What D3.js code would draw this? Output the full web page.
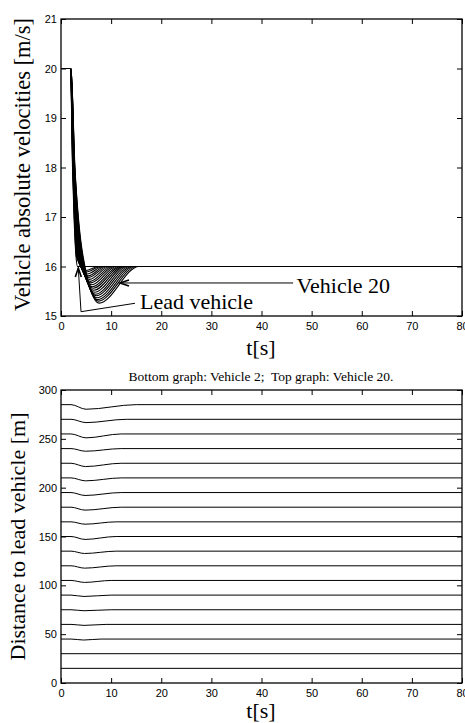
<!DOCTYPE html>
<html>
<head>
<meta charset="utf-8">
<script src="https://cdn.jsdelivr.net/npm/d3@7"></script>
<style>
  body { margin: 0; background: #fff; }
  svg { display: block; }
  .tick text { font-family: "Liberation Sans", Arial, sans-serif; font-size: 11px; fill: #000; }
  .tick line { stroke: #000; stroke-width: 1; }
  .lbl { font-family: "Liberation Serif", "Times New Roman", serif; fill: #000; }
</style>
</head>
<body>
<div id="chart"></div>
<script>
// time axis ticks (both graphs)
var tTicks = [0, 10, 20, 30, 40, 50, 60, 70, 80];
var velTicks = [15, 16, 17, 18, 19, 20, 21];
var distTicks = [0, 50, 100, 150, 200, 250, 300];

// velocity curves, vehicles 1..20 (1 = lead), key points
var velHoldT = [1.9, 1.9, 1.9, 1.9, 1.9, 1.9, 1.9, 1.9, 1.9, 1.9, 1.95, 1.95, 1.95, 1.95, 1.95, 1.95, 2.0, 2.0, 2.0, 2.0];
var velT18 = [2.30, 2.33, 2.35, 2.38, 2.40, 2.43, 2.45, 2.48, 2.50, 2.53, 2.55, 2.58, 2.60, 2.63, 2.65, 2.68, 2.70, 2.73, 2.75, 2.78];
var velT17 = [2.60, 2.65, 2.69, 2.74, 2.78, 2.83, 2.87, 2.92, 2.96, 3.01, 3.05, 3.10, 3.14, 3.19, 3.23, 3.28, 3.32, 3.37, 3.41, 3.46];
var velT162 = [3.00, 3.07, 3.15, 3.22, 3.30, 3.37, 3.44, 3.52, 3.59, 3.67, 3.74, 3.81, 3.89, 3.96, 4.04, 4.11, 4.18, 4.26, 4.33, 4.41];
var velMinT = [3.30, 4.95, 5.09, 5.24, 5.39, 5.54, 5.68, 5.83, 5.98, 6.13, 6.27, 6.42, 6.56, 6.71, 6.86, 7.01, 7.15, 7.30, 7.45, 7.60];
var velMin = [16.0, 15.92, 15.89, 15.85, 15.81, 15.78, 15.74, 15.70, 15.67, 15.63, 15.59, 15.56, 15.52, 15.48, 15.44, 15.41, 15.37, 15.33, 15.30, 15.26];
var velRecT = [3.60, 7.45, 7.90, 8.35, 8.80, 9.25, 9.70, 10.15, 10.60, 11.05, 11.50, 11.95, 12.40, 12.85, 13.30, 13.75, 14.20, 14.65, 15.10, 15.55];

// distance to lead vehicle, vehicles 2..20
var distBase = [15, 30, 45, 60, 75, 90, 105, 120, 135, 150, 165, 180, 195, 210, 225, 240, 255, 270, 285];
var distDip = [0, 0, 1.0, 1.0, 1.0, 1.4, 2.0, 2.4, 2.4, 3.0, 2.4, 3.0, 3.0, 3.0, 3.4, 2.7, 4.0, 3.4, 4.7];
var distMinT = [4.5, 4.5, 4.5, 4.6, 4.6, 4.6, 4.7, 4.7, 4.7, 4.8, 4.8, 4.8, 4.8, 4.9, 4.9, 4.9, 5.0, 5.0, 5.0];
var distRecT = [6, 6, 8, 9, 10, 10, 10, 11, 11, 11, 11, 12, 12, 12, 12, 12, 12, 13, 15];
var distHoldT = 2.0;

var W = 465, H = 723;
var left = 61, right = 462;

var svg = d3.select("#chart").append("svg")
    .attr("width", W)
    .attr("height", H);

function drawFrame(g, x, y, yTicks, top, bottom) {
    g.append("g")
        .attr("transform", "translate(0," + bottom + ")")
        .call(d3.axisBottom(x).tickValues(tTicks).tickFormat(d3.format("d"))
            .tickSizeInner(-5).tickSizeOuter(0).tickPadding(6))
        .select(".domain").remove();
    g.append("g")
        .attr("transform", "translate(0," + top + ")")
        .call(d3.axisTop(x).tickValues(tTicks).tickSizeInner(-5).tickSizeOuter(0).tickFormat(""))
        .select(".domain").remove();
    g.append("g")
        .attr("transform", "translate(" + left + ",0)")
        .call(d3.axisLeft(y).tickValues(yTicks).tickFormat(d3.format("d"))
            .tickSizeInner(-5).tickSizeOuter(0).tickPadding(4))
        .select(".domain").remove();
    g.append("g")
        .attr("transform", "translate(" + right + ",0)")
        .call(d3.axisRight(y).tickValues(yTicks).tickSizeInner(-5).tickSizeOuter(0).tickFormat(""))
        .select(".domain").remove();
    g.append("rect")
        .attr("x", left).attr("y", top)
        .attr("width", right - left).attr("height", bottom - top)
        .style("fill", "none")
        .style("stroke", "#000")
        .style("stroke-width", 1.3);
}

// ---------- top graph: velocities ----------
var vTop = 19, vBottom = 316;
var xV = d3.scaleLinear().domain([0, 80]).range([left, right]);
var yV = d3.scaleLinear().domain([15, 21]).range([vBottom, vTop]);

var gV = svg.append("g");

var velCurves = velMin.map(function(m, i) {
    return [[0, 20], [velHoldT[i], 20], [velT18[i], 18], [velT17[i], 17], [velT162[i], 16.2],
            [velMinT[i], m], [velRecT[i], 16], [80, 16]];
});

var velLine = d3.line()
    .x(function(d) { return xV(d[0]); })
    .y(function(d) { return yV(d[1]); })
    .curve(d3.curveMonotoneX);

gV.selectAll(".vel")
    .data(velCurves)
    .enter().append("path")
    .attr("class", "vel")
    .attr("d", velLine)
    .style("fill", "none")
    .style("stroke", "#000")
    .style("stroke-width", 1.1);

drawFrame(gV, xV, yV, velTicks, vTop, vBottom);

// annotations
function arrowHead(g, px, py, dir) {
    // dir: "up" or "left"
    var p = dir == "up"
        ? [[px - 3, py + 9], [px, py], [px + 3, py + 9]]
        : [[px + 9, py - 3], [px, py], [px + 9, py + 3]];
    g.append("path")
        .attr("d", d3.line()(p))
        .style("fill", "none")
        .style("stroke", "#000")
        .style("stroke-width", 1.6);
}

var leadPts = [[14.76, 15.257], [3.99, 15.087], [3.45, 15.97]];
gV.append("path")
    .attr("d", d3.line().x(function(d) { return xV(d[0]); }).y(function(d) { return yV(d[1]); })(leadPts))
    .style("fill", "none").style("stroke", "#000").style("stroke-width", 1);
arrowHead(gV, xV(3.45), yV(15.97), "up");

gV.append("path")
    .attr("d", d3.line()([[xV(11.77), yV(15.667)], [xV(46.3), yV(15.667)]]))
    .style("fill", "none").style("stroke", "#000").style("stroke-width", 1);
arrowHead(gV, xV(11.77), yV(15.667), "left");

gV.append("text").attr("class", "lbl")
    .attr("x", xV(15.76)).attr("y", yV(15.14))
    .style("font-size", "22px")
    .text("Lead vehicle");
gV.append("text").attr("class", "lbl")
    .attr("x", xV(47.0)).attr("y", yV(15.46))
    .style("font-size", "22px")
    .text("Vehicle 20");

gV.append("text").attr("class", "lbl")
    .attr("transform", "translate(30," + ((vTop + vBottom) / 2 - 3) + ") rotate(-90)")
    .attr("text-anchor", "middle")
    .style("font-size", "22.5px")
    .text("Vehicle absolute velocities [m/s]");
gV.append("text").attr("class", "lbl")
    .attr("x", 261).attr("y", 355)
    .attr("text-anchor", "middle")
    .style("font-size", "22px")
    .text("t[s]");

// ---------- bottom graph: distances ----------
var dTop = 390, dBottom = 683;
var yD = d3.scaleLinear().domain([0, 300]).range([dBottom, dTop]);
var gD = svg.append("g");

var distCurves = distBase.map(function(b, i) {
    if (distDip[i] == 0) return [[0, b], [80, b]];
    return [[0, b], [distHoldT, b], [distMinT[i], b - distDip[i]], [distRecT[i], b], [80, b]];
});

var distLine = d3.line()
    .x(function(d) { return xV(d[0]); })
    .y(function(d) { return yD(d[1]); })
    .curve(d3.curveMonotoneX);

gD.selectAll(".dist")
    .data(distCurves)
    .enter().append("path")
    .attr("class", "dist")
    .attr("d", distLine)
    .style("fill", "none")
    .style("stroke", "#000")
    .style("stroke-width", 1);

drawFrame(gD, xV, yD, distTicks, dTop, dBottom);

gD.append("text").attr("class", "lbl")
    .attr("x", 261).attr("y", 381)
    .attr("text-anchor", "middle")
    .style("font-size", "13.5px")
    .text("Bottom graph: Vehicle 2;\u00a0 Top graph: Vehicle 20.");
gD.append("text").attr("class", "lbl")
    .attr("transform", "translate(25," + ((dTop + dBottom) / 2) + ") rotate(-90)")
    .attr("text-anchor", "middle")
    .style("font-size", "22px")
    .text("Distance to lead vehicle [m]");
gD.append("text").attr("class", "lbl")
    .attr("x", 261).attr("y", 718)
    .attr("text-anchor", "middle")
    .style("font-size", "22px")
    .text("t[s]");
</script>
</body>
</html>
